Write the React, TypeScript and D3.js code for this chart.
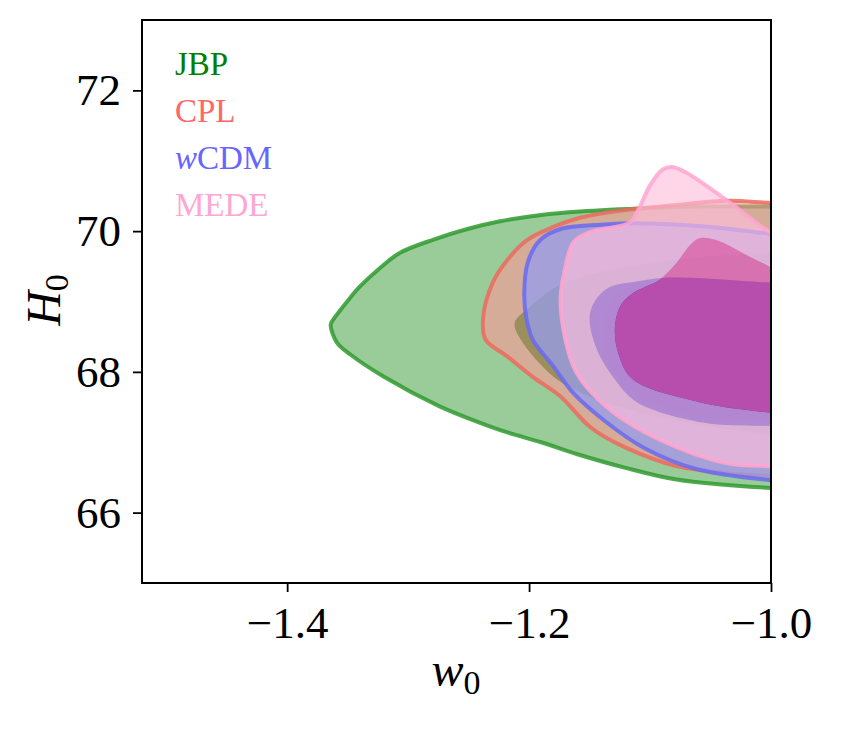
import * as d3 from 'd3';
import { useEffect, useRef } from 'react';

// contour outlines, [w0, H0]
const jbpOuter: [number, number][] = [
	[-0.95, 70.36], [-1.0, 70.35], [-1.058, 70.35], [-1.1, 70.33], [-1.158, 70.28], [-1.19, 70.23],
	[-1.224, 70.14], [-1.251, 70.03], [-1.279, 69.88], [-1.307, 69.69], [-1.323, 69.48], [-1.34, 69.21],
	[-1.349, 69.03], [-1.362, 68.74], [-1.364, 68.67], [-1.359, 68.42], [-1.348, 68.25], [-1.32, 67.93],
	[-1.274, 67.51], [-1.241, 67.28], [-1.218, 67.14], [-1.19, 67.0], [-1.16, 66.83], [-1.121, 66.64],
	[-1.078, 66.47], [-1.0, 66.35], [-0.95, 66.33],
];
const jbpInner: [number, number][] = [
	[-0.95, 69.72], [-1.0, 69.69], [-1.059, 69.63], [-1.125, 69.48], [-1.174, 69.24], [-1.199, 68.93],
	[-1.212, 68.7], [-1.207, 68.46], [-1.18, 67.93], [-1.158, 67.71], [-1.135, 67.55], [-1.075, 67.3],
	[-1.0, 67.11], [-0.95, 67.05],
];
const cplOuter: [number, number][] = [
	[-0.95, 70.37], [-1.0, 70.4], [-1.036, 70.43], [-1.078, 70.37], [-1.125, 70.29], [-1.158, 70.19],
	[-1.18, 70.06], [-1.202, 69.87], [-1.218, 69.59], [-1.23, 69.27], [-1.238, 68.77], [-1.236, 68.46],
	[-1.218, 68.22], [-1.197, 67.93], [-1.174, 67.65], [-1.149, 67.21], [-1.121, 66.93], [-1.078, 66.66],
	[-1.036, 66.56], [-1.0, 66.52], [-0.95, 66.5],
];
const cplInner: [number, number][] = [
	[-0.95, 69.18], [-1.0, 69.21], [-1.075, 69.28], [-1.125, 69.14], [-1.137, 68.74], [-1.133, 68.1],
	[-1.106, 67.63], [-1.059, 67.37], [-1.0, 67.32], [-0.95, 67.3],
];
const wcdmOuter: [number, number][] = [
	[-0.95, 69.86], [-1.0, 69.96], [-1.05, 70.06], [-1.107, 70.11], [-1.141, 70.09], [-1.174, 70.03],
	[-1.191, 69.87], [-1.201, 69.56], [-1.204, 69.1], [-1.202, 68.74], [-1.197, 68.46], [-1.18, 68.08],
	[-1.163, 67.69], [-1.135, 67.27], [-1.106, 66.93], [-1.064, 66.63], [-1.0, 66.46], [-0.95, 66.42],
];
const wcdmInner: [number, number][] = [
	[-0.95, 69.24], [-1.0, 69.27], [-1.084, 69.34], [-1.112, 69.28], [-1.134, 69.2], [-1.145, 69.02],
	[-1.15, 68.78], [-1.144, 68.32], [-1.129, 67.89], [-1.111, 67.57], [-1.056, 67.28], [-1.0, 67.23],
	[-0.95, 67.21],
];
const medeOuter: [number, number][] = [
	[-0.984, 69.73], [-1.01, 70.09], [-1.036, 70.43], [-1.059, 70.71], [-1.071, 70.84], [-1.082, 70.91],
	[-1.09, 70.87], [-1.1, 70.65], [-1.109, 70.33], [-1.117, 70.12], [-1.149, 69.99], [-1.163, 69.85],
	[-1.171, 69.41], [-1.174, 69.02], [-1.17, 68.46], [-1.162, 68.03], [-1.149, 67.72], [-1.121, 67.31],
	[-1.078, 66.93], [-1.036, 66.7], [-1.0, 66.66], [-0.95, 66.64],
];
const medeInner: [number, number][] = [
	[-0.976, 69.2], [-1.0, 69.48], [-1.017, 69.63], [-1.045, 69.87], [-1.059, 69.9], [-1.067, 69.8],
	[-1.078, 69.55], [-1.092, 69.31], [-1.114, 69.12], [-1.124, 68.95], [-1.129, 68.64], [-1.126, 68.25],
	[-1.114, 67.89], [-1.059, 67.57], [-1.0, 67.42], [-0.976, 67.39],
];

const models = ['JBP', 'CPL', 'wCDM', 'MEDE'];
const legendColors = ['#008000', '#ff6666', '#6666ff', '#ffa6d2'];
const xTicks = [-1.4, -1.2, -1.0];
const yTicks = [66, 68, 70, 72];

// outer band is drawn as a ring (outer minus inner), inner region on its own
const layers = [
	{ outer: jbpOuter, inner: jbpInner, band: '#008000', bandOp: 0.4, core: '#008000', coreOp: 0.95, line: '#2f9a2f' },
	{ outer: cplOuter, inner: cplInner, band: '#ff9696', bandOp: 0.59, core: '#ff4040', coreOp: 0.8, line: '#ec6a5e' },
	{ outer: wcdmOuter, inner: wcdmInner, band: '#969ceb', bandOp: 0.76, core: '#1419cd', coreOp: 0.9, line: '#6a6af0' },
	{ outer: medeOuter, inner: medeInner, band: '#ffbfdc', bandOp: 0.65, core: '#f261a5', coreOp: 0.71, line: '#ffa6d0' },
];

const W = 842;
const H = 741;
const margin = { left: 142, right: 71, top: 20, bottom: 158 };
const font = '"Liberation Serif", "DejaVu Serif", serif';

export default function App() {
	const ref = useRef<SVGSVGElement>(null);

	useEffect(() => {
		const svg = d3.select(ref.current);
		svg.selectAll('*').remove();

		const iw = W - margin.left - margin.right;
		const ih = H - margin.top - margin.bottom;
		const x = d3.scaleLinear().domain([-1.52, -1.0]).range([0, iw]);
		const y = d3.scaleLinear().domain([65, 73]).range([ih, 0]);

		const g = svg.append('g').attr('transform', `translate(${margin.left},${margin.top})`);

		g.append('clipPath').attr('id', 'plotclip').append('rect').attr('width', iw).attr('height', ih);

		const line = d3
			.line<[number, number]>()
			.x((d) => x(d[0]))
			.y((d) => y(d[1]))
			.curve(d3.curveCatmullRomClosed.alpha(0.5));

		const area = g.append('g').attr('clip-path', 'url(#plotclip)');
		layers.forEach((l) => {
			const o = line(l.outer) as string;
			const i = line(l.inner) as string;
			area.append('path').attr('d', o + i).attr('fill-rule', 'evenodd').attr('fill', l.band).attr('fill-opacity', l.bandOp);
			area.append('path').attr('d', i).attr('fill', l.core).attr('fill-opacity', l.coreOp);
			area
				.append('path')
				.attr('d', o)
				.attr('fill', 'none')
				.attr('stroke', l.line)
				.attr('stroke-opacity', 0.85)
				.attr('stroke-width', 4)
				.attr('stroke-linejoin', 'round');
		});

		// axes
		const xAxis = d3.axisBottom(x).tickValues(xTicks).tickFormat(d3.format('.1f')).tickSize(9).tickSizeOuter(0).tickPadding(14);
		const gx = g.append('g').attr('transform', `translate(0,${ih})`).call(xAxis);
		const yAxis = d3.axisLeft(y).tickValues(yTicks).tickFormat(d3.format('d')).tickSize(9).tickSizeOuter(0).tickPadding(12);
		const gy = g.append('g').call(yAxis);
		[gx, gy].forEach((a) => {
			a.select('.domain').remove();
			a.selectAll('line').attr('stroke', '#000').attr('stroke-width', 1.8);
			a.selectAll('text').attr('font-family', font).attr('font-size', 45).attr('fill', '#000');
		});

		g.append('rect')
			.attr('width', iw)
			.attr('height', ih)
			.attr('fill', 'none')
			.attr('stroke', '#000')
			.attr('stroke-width', 2);

		// legend as coloured labels
		models.forEach((m, i) => {
			const t = g
				.append('text')
				.attr('x', 33)
				.attr('y', 55 + i * 47)
				.attr('font-family', font)
				.attr('font-size', 33)
				.attr('fill', legendColors[i]);
			if (m === 'wCDM') {
				t.append('tspan').attr('font-style', 'italic').text('w');
				t.append('tspan').text('CDM');
			} else {
				t.text(m);
			}
		});

		// axis titles
		const xl = svg
			.append('text')
			.attr('x', 456)
			.attr('y', 686)
			.attr('text-anchor', 'middle')
			.attr('font-family', font)
			.attr('font-size', 48);
		xl.append('tspan').attr('font-style', 'italic').text('w');
		xl.append('tspan').attr('font-size', 34).attr('dy', 8).text('0');

		const yl = svg
			.append('text')
			.attr('transform', 'translate(60,300) rotate(-90)')
			.attr('text-anchor', 'middle')
			.attr('font-family', font)
			.attr('font-size', 48);
		yl.append('tspan').attr('font-style', 'italic').text('H');
		yl.append('tspan').attr('font-size', 34).attr('dy', 8).text('0');
	}, []);

	return (
		<svg
			ref={ref}
			width={W}
			height={H}
			style={{ position: 'absolute', left: 0, top: 0, background: '#fff' }}
		/>
	);
}
